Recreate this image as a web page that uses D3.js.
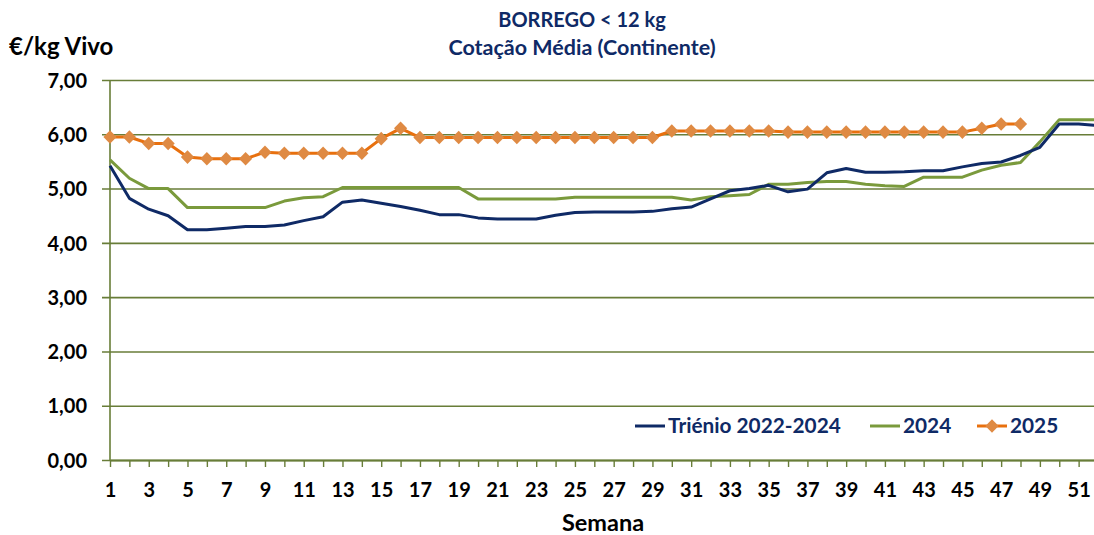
<!DOCTYPE html>
<html>
<head>
<meta charset="utf-8">
<script src="https://cdn.jsdelivr.net/npm/d3@7"></script>
<style>
  html, body { margin: 0; padding: 0; background: #fff; }
  svg { display: block; overflow: hidden; }
  text { font-family: Lato, "Open Sans", sans-serif; font-weight: bold; }
</style>
</head>
<body>
<div id="chart"></div>
<script>
var weeks = [1, 2, 3, 4, 5, 6, 7, 8, 9, 10, 11, 12, 13, 14, 15, 16, 17, 18, 19, 20,
  21, 22, 23, 24, 25, 26, 27, 28, 29, 30, 31, 32, 33, 34, 35, 36, 37, 38, 39, 40,
  41, 42, 43, 44, 45, 46, 47, 48, 49, 50, 51, 52];

var trienio = [5.42, 4.82, 4.62, 4.50, 4.24, 4.24, 4.27, 4.30, 4.30, 4.33,
  4.41, 4.48, 4.75, 4.79, 4.73, 4.67, 4.60, 4.52, 4.52, 4.46,
  4.44, 4.44, 4.44, 4.51, 4.56, 4.57, 4.57, 4.57, 4.58, 4.63,
  4.66, 4.81, 4.96, 5.00, 5.06, 4.94, 4.99, 5.29, 5.37, 5.30,
  5.30, 5.31, 5.33, 5.33, 5.40, 5.46, 5.49, 5.61, 5.76, 6.19,
  6.19, 6.16];

var ano2024 = [5.53, 5.19, 5.00, 5.00, 4.65, 4.65, 4.65, 4.65, 4.65, 4.77,
  4.83, 4.85, 5.02, 5.02, 5.02, 5.02, 5.02, 5.02, 5.02, 4.81,
  4.81, 4.81, 4.81, 4.81, 4.84, 4.84, 4.84, 4.84, 4.84, 4.84,
  4.79, 4.85, 4.87, 4.89, 5.08, 5.08, 5.11, 5.13, 5.13, 5.08,
  5.05, 5.04, 5.21, 5.21, 5.21, 5.34, 5.43, 5.48, 5.86, 6.27,
  6.27, 6.27];

var ano2025 = [5.95, 5.95, 5.83, 5.83, 5.58, 5.55, 5.55, 5.55, 5.67, 5.65,
  5.65, 5.65, 5.65, 5.65, 5.92, 6.11, 5.94, 5.94, 5.94, 5.94,
  5.94, 5.94, 5.94, 5.94, 5.94, 5.94, 5.94, 5.94, 5.94, 6.06,
  6.06, 6.06, 6.06, 6.06, 6.06, 6.04, 6.04, 6.04, 6.04, 6.04,
  6.04, 6.04, 6.04, 6.04, 6.04, 6.11, 6.19, 6.19];

var yTicks = [0, 1, 2, 3, 4, 5, 6, 7];
var xLabels = [1, 3, 5, 7, 9, 11, 13, 15, 17, 19, 21, 23, 25, 27, 29, 31, 33, 35,
  37, 39, 41, 43, 45, 47, 49, 51];
var seriesNames = ['Triénio 2022-2024', '2024', '2025'];

// Create SVG Element
var chartWidth = 1094;
var chartHeight = 535;
var svg = d3.select('#chart')
    .append('svg')
    .attr('width', chartWidth)
    .attr('height', chartHeight);

var gridColor = '#687d38';
var navy = '#0f2a66';
var green = '#7a9a3c';
var orange = '#e8700e';
var diamondFill = '#df8a43';

// Create Scales
var scaleX = d3.scalePoint()
    .domain(weeks)
    .range([110, 1098]);

var scaleY = d3.scaleLinear()
    .domain([0, 7])
    .range([460, 80]);

// Gridlines + y labels
var yAxis = svg.append('g')
    .attr('transform', 'translate(110,0)')
    .call(d3.axisLeft(scaleY)
      .tickValues(yTicks)
      .tickSize(-(1098 - 110))
      .tickPadding(23)
      .tickFormat(function(d) { return d3.format('.2f')(d).replace('.', ','); }));
yAxis.select('.domain').remove();
yAxis.selectAll('.tick line')
    .attr('x1', -8)
    .attr('stroke', gridColor)
    .attr('stroke-width', 1.6);
yAxis.selectAll('.tick text')
    .attr('font-size', 20)
    .attr('font-family', 'Lato, sans-serif')
    .attr('font-weight', 'bold')
    .attr('fill', '#000')
    .attr('dy', '0.36em');

// Vertical axis line
svg.append('line')
    .attr('x1', 110).attr('x2', 110)
    .attr('y1', scaleY(7)).attr('y2', scaleY(0))
    .attr('stroke', gridColor)
    .attr('stroke-width', 1.6);

// X axis
var xAxis = svg.append('g')
    .attr('transform', 'translate(0,' + scaleY(0) + ')')
    .call(d3.axisBottom(scaleX)
      .tickValues(weeks)
      .tickSize(7)
      .tickSizeOuter(0)
      .tickFormat(function(d) { return xLabels.indexOf(d) >= 0 ? d : ''; }));
xAxis.select('.domain')
    .attr('stroke', gridColor)
    .attr('stroke-width', 2);
xAxis.selectAll('.tick line')
    .attr('stroke', gridColor)
    .attr('stroke-width', 1.4);
xAxis.selectAll('.tick text')
    .attr('font-size', 20)
    .attr('font-family', 'Lato, sans-serif')
    .attr('font-weight', 'bold')
    .attr('fill', '#000')
    .attr('y', 37)
    .attr('dy', 0);

// Lines
function lineFor(values) {
  return d3.line()
      .x(function(d, i) { return scaleX(weeks[i]); })
      .y(function(d) { return scaleY(d); })(values);
}

svg.append('path')
    .attr('d', lineFor(ano2024))
    .attr('fill', 'none')
    .attr('stroke', green)
    .attr('stroke-width', 3)
    .attr('stroke-linejoin', 'round');

svg.append('path')
    .attr('d', lineFor(trienio))
    .attr('fill', 'none')
    .attr('stroke', navy)
    .attr('stroke-width', 3)
    .attr('stroke-linejoin', 'round');

svg.append('path')
    .attr('d', lineFor(ano2025))
    .attr('fill', 'none')
    .attr('stroke', orange)
    .attr('stroke-width', 3)
    .attr('stroke-linejoin', 'round');

var diamond = 'M0,-6.8L6.6,0L0,6.8L-6.6,0Z';
svg.selectAll('.marker')
    .data(ano2025)
    .enter()
    .append('path')
    .attr('class', 'marker')
    .attr('d', diamond)
    .attr('transform', function(d, i) {
      return 'translate(' + scaleX(weeks[i]) + ',' + scaleY(d) + ')';
    })
    .attr('fill', diamondFill);

// Legend
var legend = svg.append('g').attr('transform', 'translate(0,426)');
var legendItems = [
  {name: seriesNames[0], color: navy, x: 635, marker: false},
  {name: seriesNames[1], color: green, x: 870, marker: false},
  {name: seriesNames[2], color: orange, x: 977, marker: true}
];
legendItems.forEach(function(item) {
  legend.append('line')
      .attr('x1', item.x).attr('x2', item.x + 30)
      .attr('y1', 0).attr('y2', 0)
      .attr('stroke', item.color)
      .attr('stroke-width', 3);
  if (item.marker) {
    legend.append('path')
        .attr('d', diamond)
        .attr('transform', 'translate(' + (item.x + 15) + ',0)')
        .attr('fill', diamondFill);
  }
  legend.append('text')
      .text(item.name)
      .attr('x', item.x + 33)
      .attr('y', 7)
      .attr('font-size', 20.8)
      .attr('fill', navy);
});

// Titles
svg.append('text')
    .text('BORREGO < 12 kg')
    .attr('x', 582)
    .attr('y', 27)
    .attr('text-anchor', 'middle')
    .attr('font-size', 20)
    .attr('fill', navy);

svg.append('text')
    .text('Cotação Média (Continente)')
    .attr('x', 582)
    .attr('y', 55)
    .attr('text-anchor', 'middle')
    .attr('font-size', 21.5)
    .attr('fill', navy);

svg.append('text')
    .text('€/kg Vivo')
    .attr('x', 9)
    .attr('y', 55)
    .attr('font-size', 24)
    .attr('fill', '#000');

svg.append('text')
    .text('Semana')
    .attr('x', 603)
    .attr('y', 531)
    .attr('text-anchor', 'middle')
    .attr('font-size', 23.5)
    .attr('fill', '#000');
</script>
</body>
</html>
